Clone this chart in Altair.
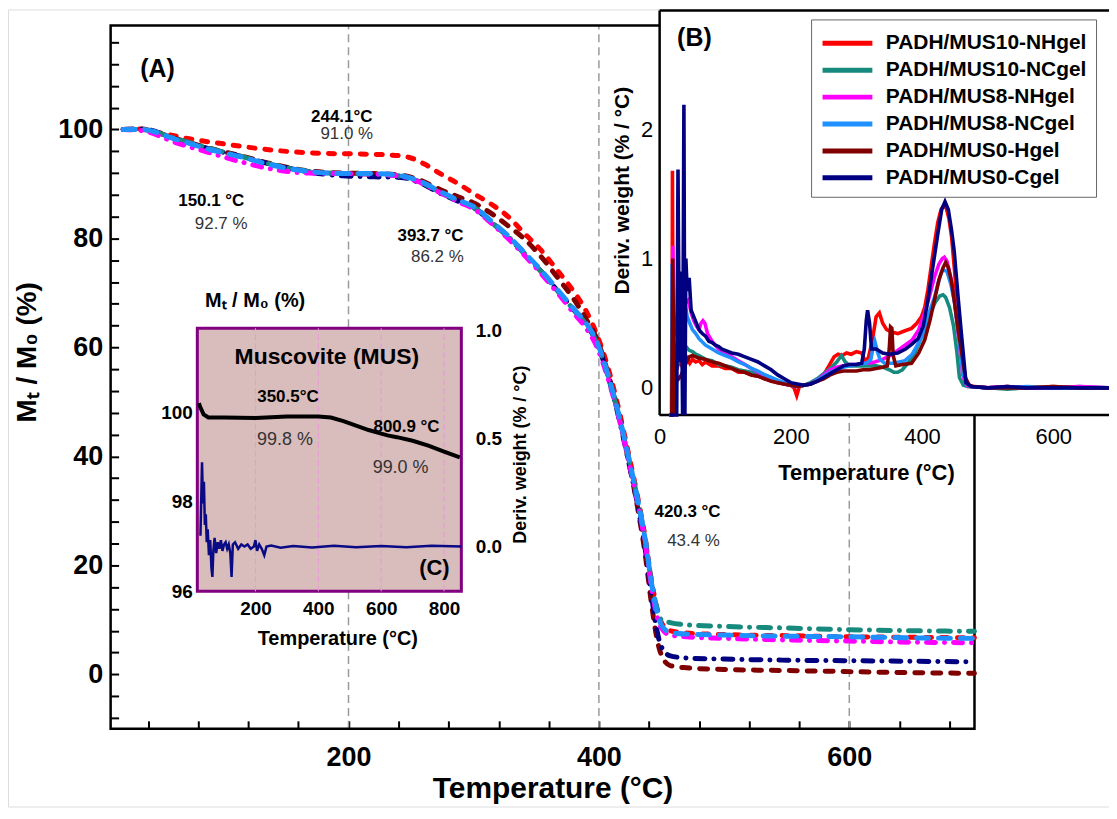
import altair as alt
import pandas as pd

W, H = 1105, 800
FONT = "Liberation Sans"

# ---------------- data ----------------
SERIES = ["PADH/MUS10-NHgel", "PADH/MUS10-NCgel", "PADH/MUS8-NHgel",
          "PADH/MUS8-NCgel", "PADH/MUS0-Hgel", "PADH/MUS0-Cgel"]
COLORS = ["#ff0000", "#178a7e", "#ff00ff", "#1e90ff", "#800000", "#000080"]

# Panel A : TGA (M_T/M_0 %) vs temperature
A_T = [20, 35, 62, 88, 115, 142, 168, 195, 221, 242, 256, 274, 288, 301, 314, 327, 341, 354, 367, 381,
       389, 399, 407, 415, 423, 431, 437, 442, 446, 450, 457, 470, 500, 550, 600, 650, 700]
A_BLUE_V = [100, 100, 98.2, 96.4, 94.9, 93.3, 92.3, 91.9, 91.9, 91.5, 90.6, 88.5, 87.0, 85.7, 83.2, 80.6, 77.3, 74.1, 70.6, 66.8,
            64.7, 60.7, 55.2, 48.5, 40.6, 32.0, 24.7, 16.8, 11.9, 9.0, 7.7, 7.4, 7.2, 7.0, 6.9, 6.7, 6.6]
A_MAG_V = [100, 99.8, 97.6, 95.8, 94.0, 92.6, 92.0, 91.9, 91.8, 91.4, 90.4, 88.3, 86.7, 85.3, 82.8, 80.1, 76.8, 73.5, 70.0, 66.0,
           63.8, 59.8, 54.5, 48.0, 40.0, 31.5, 24.0, 16.0, 11.0, 8.5, 7.2, 6.9, 6.6, 6.3, 6.1, 5.9, 5.8]
A_TEAL_V = [100, 100, 98.3, 96.6, 95.0, 93.4, 92.3, 91.9, 91.8, 91.4, 90.5, 88.4, 86.9, 85.6, 83.0, 80.4, 77.1, 73.9, 70.4, 66.6,
            64.5, 60.5, 55.0, 48.3, 40.5, 32.0, 24.8, 17.0, 12.5, 10.0, 9.5, 9.1, 8.8, 8.5, 8.2, 8.0, 7.9]
A_NAVY_V = [100, 100.1, 98.2, 96.5, 95.0, 93.4, 92.2, 91.5, 91.3, 91.2, 90.3, 88.2, 86.8, 85.5, 83.0, 80.4, 77.1, 73.9, 70.4, 66.6,
            64.5, 60.5, 55.0, 48.0, 39.8, 31.0, 23.0, 14.5, 8.5, 5.0, 3.4, 3.0, 2.8, 2.6, 2.5, 2.4, 2.3]
A_MAROON_V = [100, 100, 98.3, 96.6, 95.1, 93.5, 92.4, 92.0, 91.9, 91.6, 90.8, 88.9, 87.6, 86.4, 84.6, 82.4, 79.8, 76.6, 72.8, 68.5,
              65.5, 61.2, 55.5, 48.5, 40.0, 30.5, 22.0, 13.0, 7.0, 3.5, 1.6, 1.2, 0.9, 0.7, 0.5, 0.3, 0.2]
A_RED_T = [20, 35, 49, 75, 102, 128, 155, 182, 208, 234, 248, 261, 274, 288, 301, 314, 328, 341, 354, 367,
           381, 389, 399, 407, 415, 423, 431, 437, 442, 446, 450, 457, 470, 500, 550, 600, 650, 700]
A_RED_V = [100, 100.1, 99.4, 98.2, 97.3, 96.5, 95.9, 95.6, 95.5, 95.3, 94.9, 93.6, 91.8, 90.0, 88.1, 86.3, 83.9, 80.8, 77.8, 74.1,
           69.9, 67.0, 62.0, 56.5, 49.5, 41.2, 32.5, 25.0, 17.2, 12.4, 9.5, 8.0, 7.6, 7.3, 7.1, 6.9, 6.8, 6.7]

# Panel B : derivative weight (% / °C) vs temperature, (T, value) pairs
B_RED = [(15, -0.21), (19, -0.21), (19.5, 1.68), (20.5, 0.3), (22, 0.05), (24, 0.12), (27, 0.16), (30, 0.21), (34, 0.17),
         (38, 0.21), (42, 0.23), (46, 0.19), (50, 0.22), (55, 0.2), (60, 0.21), (65, 0.18), (70, 0.2), (80, 0.17), (90, 0.17),
         (100, 0.15), (110, 0.15), (120, 0.12), (130, 0.12), (140, 0.1), (150, 0.09), (160, 0.07), (170, 0.06), (180, 0.04),
         (190, 0.03), (200, 0.02), (205, 0.0), (209, -0.06), (213, 0.01), (220, 0.02), (230, 0.03), (240, 0.06), (250, 0.1),
         (258, 0.17), (266, 0.24), (272, 0.26), (278, 0.25), (285, 0.27), (292, 0.26), (300, 0.28), (308, 0.27), (313, 0.21),
         (318, 0.23), (324, 0.36), (330, 0.55), (335, 0.58), (340, 0.5), (346, 0.45), (355, 0.43), (363, 0.42), (373, 0.44),
         (384, 0.46), (392, 0.5), (399, 0.55), (404, 0.62), (409, 0.76), (414, 0.94), (419, 1.12), (424, 1.28), (429, 1.38),
         (433, 1.41), (437, 1.39), (441, 1.31), (445, 1.17), (450, 0.88), (455, 0.55), (460, 0.25), (465, 0.05), (470, 0.01),
         (480, 0.01), (500, 0.0), (530, 0.01), (560, 0.0), (600, 0.01), (640, 0.0), (685, 0.0)]
B_TEAL = [(15, -0.21), (18.5, -0.21), (19, 0.39), (20.5, 0.1), (22, -0.21), (24, 0.1), (27, 0.2), (30, 0.27), (33, 0.3),
          (36, 0.28), (40, 0.32), (45, 0.29), (50, 0.28), (55, 0.26), (60, 0.25), (70, 0.22), (80, 0.21), (90, 0.18),
          (100, 0.17), (110, 0.16), (120, 0.14), (130, 0.13), (140, 0.12), (150, 0.12), (160, 0.1), (170, 0.08), (180, 0.05),
          (190, 0.03), (200, 0.02), (210, 0.01), (220, 0.02), (230, 0.04), (240, 0.07), (250, 0.11), (260, 0.15), (270, 0.2),
          (277, 0.25), (283, 0.2), (290, 0.17), (300, 0.17), (310, 0.17), (320, 0.17), (330, 0.17), (340, 0.16), (350, 0.14),
          (357, 0.12), (363, 0.12), (370, 0.14), (380, 0.2), (390, 0.28), (400, 0.4), (410, 0.55), (420, 0.66), (427, 0.71),
          (432, 0.72), (436, 0.7), (442, 0.62), (448, 0.48), (453, 0.28), (457, 0.08), (463, 0.02), (470, 0.01), (500, 0.0),
          (530, -0.01), (560, 0.0), (600, 0.0), (640, 0.01), (685, 0.0)]
B_MAG = [(15, -0.21), (18.5, -0.21), (20, 1.1), (21.5, 0.6), (24, 0.4), (28, 0.5), (32, 0.58), (36, 0.62), (40, 0.66),
         (44, 0.68), (48, 0.58), (52, 0.52), (56, 0.48), (60, 0.45), (63, 0.5), (66, 0.52), (69, 0.5), (73, 0.42), (80, 0.36),
         (90, 0.3), (100, 0.27), (110, 0.24), (120, 0.21), (130, 0.18), (140, 0.15), (150, 0.12), (160, 0.09), (170, 0.07),
         (180, 0.05), (190, 0.03), (200, 0.02), (210, 0.01), (220, 0.02), (230, 0.03), (240, 0.06), (250, 0.1), (260, 0.14),
         (270, 0.16), (280, 0.17), (290, 0.18), (300, 0.18), (310, 0.19), (318, 0.19), (328, 0.2), (340, 0.22), (355, 0.26),
         (366, 0.3), (374, 0.33), (385, 0.37), (395, 0.45), (404, 0.58), (412, 0.72), (419, 0.86), (426, 0.96), (431, 1.0),
         (434, 1.01), (438, 0.98), (444, 0.85), (450, 0.65), (456, 0.38), (462, 0.1), (468, 0.02), (475, 0.01), (500, 0.0),
         (530, 0.01), (560, 0.0), (600, 0.0), (640, 0.01), (685, 0.0)]
B_BLUE = [(15, -0.21), (18, -0.21), (19, 0.96), (20.5, 0.5), (22, 0.1), (24, 0.2), (27, 0.35), (31, 0.5), (35, 0.62),
          (39, 0.64), (42, 0.55), (46, 0.5), (50, 0.45), (55, 0.42), (60, 0.38), (70, 0.33), (80, 0.3), (90, 0.27),
          (100, 0.25), (110, 0.23), (120, 0.2), (130, 0.18), (140, 0.15), (150, 0.13), (160, 0.1), (170, 0.08), (180, 0.06),
          (190, 0.04), (200, 0.02), (210, 0.01), (220, 0.02), (230, 0.03), (240, 0.06), (250, 0.09), (260, 0.12), (270, 0.14),
          (280, 0.16), (290, 0.17), (300, 0.18), (315, 0.19), (322, 0.22), (326, 0.33), (328, 0.36), (332, 0.28), (336, 0.22),
          (343, 0.19), (355, 0.19), (365, 0.2), (374, 0.21), (385, 0.26), (395, 0.35), (404, 0.45), (412, 0.6), (419, 0.7),
          (425, 0.82), (430, 0.9), (434, 0.91), (438, 0.9), (444, 0.8), (450, 0.65), (456, 0.4), (462, 0.12), (468, 0.03),
          (475, 0.01), (500, 0.0), (530, 0.0), (560, 0.01), (600, 0.0), (640, 0.0), (685, 0.0)]
B_MAROON = [(15, -0.21), (18.5, -0.21), (20, 1.0), (21.5, 0.2), (23, -0.21), (25, 0.05), (29, 0.07), (33, 0.1), (37, 0.15),
            (41, 0.2), (45, 0.24), (50, 0.25), (55, 0.24), (60, 0.23), (70, 0.22), (80, 0.2), (90, 0.19), (100, 0.17),
            (110, 0.15), (120, 0.13), (130, 0.12), (140, 0.1), (150, 0.09), (160, 0.07), (170, 0.05), (180, 0.04), (190, 0.03),
            (200, 0.02), (210, 0.01), (220, 0.02), (230, 0.03), (240, 0.05), (250, 0.07), (260, 0.1), (270, 0.12), (280, 0.13),
            (290, 0.13), (300, 0.13), (310, 0.14), (320, 0.14), (330, 0.15), (340, 0.16), (347, 0.17), (350, 0.3), (352, 0.47),
            (354, 0.46), (356, 0.25), (360, 0.17), (370, 0.18), (384, 0.19), (395, 0.27), (404, 0.37), (412, 0.52), (419, 0.68),
            (426, 0.84), (432, 0.93), (436, 0.97), (440, 0.93), (445, 0.82), (449, 0.68), (455, 0.45), (460, 0.29), (466, 0.08),
            (472, 0.02), (478, 0.01), (500, 0.0), (530, 0.0), (560, 0.0), (600, 0.01), (640, 0.0), (685, 0.0)]
B_NAVY = [(15, -0.21), (26, -0.21), (28, 1.69), (30, 0.2), (33, 0.9), (35, -0.21), (37, 2.19), (38.5, -0.21), (40, 1.0),
          (42, 0.75), (45, 0.85), (48, 0.6), (52, 0.55), (56, 0.5), (60, 0.45), (65, 0.42), (70, 0.4), (75, 0.36), (80, 0.35),
          (85, 0.33), (90, 0.32), (95, 0.3), (100, 0.29), (110, 0.27), (120, 0.26), (130, 0.24), (140, 0.22), (150, 0.2),
          (160, 0.17), (170, 0.14), (180, 0.1), (190, 0.07), (200, 0.04), (210, 0.03), (220, 0.02), (230, 0.03), (240, 0.05),
          (250, 0.08), (260, 0.11), (270, 0.14), (280, 0.17), (290, 0.18), (300, 0.18), (308, 0.19), (312, 0.3), (315, 0.52),
          (317, 0.6), (320, 0.5), (323, 0.3), (330, 0.3), (340, 0.27), (350, 0.26), (363, 0.27), (375, 0.3), (385, 0.34),
          (394, 0.38), (402, 0.48), (409, 0.68), (416, 0.92), (424, 1.19), (430, 1.38), (435, 1.44), (440, 1.38), (445, 1.22),
          (449, 1.06), (455, 0.7), (460, 0.42), (467, 0.04), (475, 0.01), (500, 0.0), (530, 0.01), (560, 0.0), (600, 0.0),
          (640, 0.0), (685, 0.0)]
B_DATA = [B_RED, B_TEAL, B_MAG, B_BLUE, B_MAROON, B_NAVY]

# Panel C : muscovite TGA (left axis) and DTG (right axis)
C_TGA_T = [20, 25, 35, 50, 100, 200, 300, 400, 440, 480, 520, 560, 600, 620, 650, 700, 750, 800, 850]
C_TGA_V = [100.2, 100.1, 99.95, 99.88, 99.88, 99.87, 99.9, 99.9, 99.88, 99.8, 99.7, 99.6, 99.52, 99.48, 99.44, 99.36,
           99.25, 99.12, 98.99]
C_DTG = [(25, 0.05), (30, 0.39), (33, 0.2), (36, 0.3), (39, 0.1), (42, 0.15), (45, 0.02), (48, 0.08), (52, -0.04),
         (56, 0.03), (60, -0.1), (63, -0.14), (66, -0.02), (70, 0.04), (75, -0.03), (80, 0.02), (85, -0.01), (90, 0.03),
         (95, -0.02), (100, 0.01), (105, 0.02), (110, -0.01), (115, 0.01), (120, -0.03), (124, -0.14), (128, 0.01),
         (135, 0.02), (145, -0.01), (155, 0.01), (165, 0.0), (175, 0.01), (185, -0.01), (195, 0.0), (200, 0.03),
         (205, -0.02), (212, 0.01), (220, -0.01), (228, -0.04), (235, 0.0), (250, 0.005), (280, -0.005), (320, 0.003),
         (380, -0.004), (450, 0.004), (520, -0.003), (600, 0.003), (680, -0.003), (760, 0.004), (855, 0.0)]

# annotations
A_TEMP_LABELS = ["244.1°C", "150.1 °C", "393.7 °C", "420.3 °C"]
A_TEMP_T = [194.6, 90.4, 265.5, 470.8]
A_TEMP_V = [102.3, 86.9, 80.5, 29.7]
A_PCT_LABELS = ["91.0 %", "92.7 %", "86.2 %", "43.4 %"]
A_PCT_T = [198.6, 98.3, 271.0, 475.6]
A_PCT_V = [99.2, 82.7, 76.5, 24.4]
C_TEMP_LABELS = ["350.5°C", "800.9 °C"]
C_TEMP_T = [303.4, 680.6]
C_TEMP_V = [100.34, 99.67]
C_PCT_LABELS = ["99.8 %", "99.0 %"]
C_PCT_T = [294.0, 661.6]
C_PCT_V = [99.38, 98.76]

# ---------------- panel geometry (pixel ranges) ----------------
A_XS = dict(domain=[10, 700], range=[103, 970])
A_YS = dict(domain=[-10, 119.1], range=[722, 16])
B_XS = dict(domain=[0, 685], range=[654, 1105])
B_YS = dict(domain=[-0.21, 2.92], range=[407, 1])
C_XS = dict(domain=[15, 855], range=[190, 455])
C_YL = dict(domain=[96, 101.87], range=[584, 320])
C_YR = dict(domain=[-0.207, 1.01], range=[584, 320])


def S(d):
    return alt.Scale(domain=d["domain"], range=d["range"], nice=False, zero=False)


def enc(xs, ys, xaxis=None, yaxis=None):
    return dict(x=alt.X("T:Q", scale=S(xs), axis=xaxis), y=alt.Y("V:Q", scale=S(ys), axis=yaxis))


def line(T, V, xs, ys, **mk):
    df = pd.DataFrame({"T": T, "V": V})
    return alt.Chart(df).mark_line(**mk).encode(**enc(xs, ys))


def text(labels, T, V, xs, ys, **mk):
    df = pd.DataFrame({"T": T, "V": V, "label": labels})
    return alt.Chart(df).mark_text(font=FONT, **mk).encode(text="label:N", **enc(xs, ys))


def carrier(xs, ys, xaxis, yaxis):
    df = pd.DataFrame({"T": xs["domain"], "V": ys["domain"]})
    return alt.Chart(df).mark_point(opacity=0).encode(**enc(xs, ys, xaxis, yaxis))


def lab_axis(orient, offset, values, size, weight, pad, fmt=None):
    kw = dict(orient=orient, offset=offset, values=values, ticks=False, domain=False, grid=False,
              labelFontSize=size, labelFontWeight=weight, labelColor="black", labelFont=FONT,
              labelPadding=pad, labelFlush=False, labelOverlap=False, title=None)
    if fmt:
        kw["format"] = fmt
    return alt.Axis(**kw)


def tick_axis(orient, offset, values, size=8):
    return alt.Axis(orient=orient, offset=offset, values=values, labels=False, domain=False, grid=False,
                    tickSize=size, tickWidth=2, tickColor="black", title=None)


def rect(xs, ys, **mk):
    df = pd.DataFrame({"T": [xs["domain"][0]], "T2": [xs["domain"][1]],
                       "V": [ys["domain"][0]], "V2": [ys["domain"][1]]})
    return alt.Chart(df).mark_rect(**mk).encode(
        x=alt.X("T:Q", scale=S(xs), axis=None), x2="T2:Q",
        y=alt.Y("V:Q", scale=S(ys), axis=None), y2="V2:Q")


def rules(T, T2, V, V2, xs, ys, **mk):
    df = pd.DataFrame({"T": T, "T2": T2, "V": V, "V2": V2})
    return alt.Chart(df).mark_rule(**mk).encode(
        x=alt.X("T:Q", scale=S(xs), axis=None), x2="T2:Q",
        y=alt.Y("V:Q", scale=S(ys), axis=None), y2="V2:Q")


layers = []

# ---------------- Panel A ----------------
layers.append(rules([200, 400, 600], [200, 400, 600], [-10] * 3, [119.1] * 3, A_XS, A_YS,
                    color="#9a9a9a", strokeWidth=1.5, strokeDash=[8, 5]))
layers.append(rect(A_XS, A_YS, fillOpacity=0, stroke="black", strokeWidth=2.5))
A_STYLE = dict(strokeWidth=5, strokeCap="round", interpolate="monotone")
layers.append(line(A_RED_T, A_RED_V, A_XS, A_YS, color=COLORS[0], strokeDash=[6, 10], **A_STYLE))
layers.append(line(A_T, A_MAROON_V, A_XS, A_YS, color=COLORS[4], strokeDash=[8, 10], **A_STYLE))
layers.append(line(A_T, A_NAVY_V, A_XS, A_YS, color=COLORS[5], strokeDash=[10, 9, 0.1, 9], **A_STYLE))
layers.append(line(A_T, A_TEAL_V, A_XS, A_YS, color=COLORS[1], strokeDash=[12, 9, 0.1, 9], **A_STYLE))
layers.append(line(A_T, A_MAG_V, A_XS, A_YS, color=COLORS[2], strokeDash=[9, 9, 0.1, 9], **A_STYLE))
layers.append(line(A_T, A_BLUE_V, A_XS, A_YS, color=COLORS[3], strokeDash=[12, 10], **A_STYLE))
layers.append(text(A_TEMP_LABELS, A_TEMP_T, A_TEMP_V, A_XS, A_YS, fontSize=17, fontWeight="bold", color="black"))
layers.append(text(A_PCT_LABELS, A_PCT_T, A_PCT_V, A_XS, A_YS, fontSize=17, color="#333333"))
layers.append(text(["(A)"], [47.4], [111.0], A_XS, A_YS, fontSize=25, fontWeight="bold", color="black"))
layers.append(text(["Mₜ / M₀ (%)"], [125.4], [68.6], A_XS, A_YS, fontSize=20, fontWeight="bold", color="black"))
layers.append(text(["Mₜ / M₀ (%)"], [-56.1], [59.1], A_XS, A_YS, fontSize=28, fontWeight="bold", color="black", angle=270))
layers.append(text(["Temperature (°C)"], [363.4], [-21.0], A_XS, A_YS, fontSize=30, fontWeight="bold", color="black"))
layers.append(carrier(A_XS, A_YS,
                      lab_axis("bottom", 722 - H, [200, 400, 600], 27, "bold", 16),
                      lab_axis("left", -103, [0, 20, 40, 60, 80, 100], 27, "bold", 8)))
layers.append(carrier(A_XS, A_YS,
                      tick_axis("top", -722, list(range(40, 700, 40))),
                      tick_axis("right", 103 - W, list(range(-8, 119, 4)))))

# ---------------- Panel C (inset) ----------------
layers.append(rect(C_XS, C_YL, fill="#d9bcbc", stroke="#800080", strokeWidth=3))
layers.append(rules([200, 400, 600, 800], [200, 400, 600, 800], [96] * 4, [101.87] * 4, C_XS, C_YL,
                    color="#e89ad8", strokeWidth=1, strokeDash=[6, 3]))
layers.append(line(C_TGA_T, C_TGA_V, C_XS, C_YL, color="black", strokeWidth=4))
layers.append(line([p[0] for p in C_DTG], [p[1] for p in C_DTG], C_XS, C_YR, color="#0a0a85", strokeWidth=2.5))
layers.append(text(["Muscovite (MUS)"], [427], [101.23], C_XS, C_YL, fontSize=23, fontWeight="bold", color="black"))
layers.append(text(C_TEMP_LABELS, C_TEMP_T, C_TEMP_V, C_XS, C_YL, fontSize=17, fontWeight="bold", color="black"))
layers.append(text(C_PCT_LABELS, C_PCT_T, C_PCT_V, C_XS, C_YL, fontSize=18, color="#333333"))
layers.append(text(["(C)"], [769.4], [96.53], C_XS, C_YL, fontSize=22, fontWeight="bold", color="black"))
layers.append(text(["Temperature (°C)"], [461.9], [94.93], C_XS, C_YL, fontSize=20, fontWeight="bold", color="black"))
layers.append(text(["Deriv. weight (% / °C)"], [1045], [99.05], C_XS, C_YL, fontSize=18, fontWeight="bold",
                   color="black", angle=270))
layers.append(carrier(C_XS, C_YL,
                      lab_axis("bottom", 584 - H, [200, 400, 600, 800], 19, "bold", 8),
                      lab_axis("left", -190, [96, 98, 100], 19, "bold", 5)))
layers.append(carrier(C_XS, C_YR, None, lab_axis("right", 455 - W, [0.0, 0.5, 1.0], 19, "bold", 14, ".1f")))

# ---------------- Panel B (inset) ----------------
layers.append(rect(B_XS, B_YS, fill="white", strokeWidth=0))
layers.append(rules([0, 0, 0], [685, 0, 685], [2.92, -0.21, -0.21], [2.92, 2.92, -0.21], B_XS, B_YS,
                    color="black", strokeWidth=2.5))
b_rows = []
for name, pts in zip(SERIES, B_DATA):
    for t, v in pts:
        b_rows.append({"T": t, "V": v, "series": name})
b_df = pd.DataFrame(b_rows)
layers.append(alt.Chart(b_df).mark_line(strokeWidth=3.6).encode(
    color=alt.Color("series:N", scale=alt.Scale(domain=SERIES, range=COLORS), sort=SERIES,
                    legend=alt.Legend(orient="none", legendX=806, legendY=10, title=None,
                                      symbolType="M-1,0L3,0", symbolStrokeWidth=5, symbolSize=625,
                                      labelFontSize=21, labelFontWeight="bold", labelFont=FONT,
                                      labelColor="black", labelLimit=400, strokeColor="#666666",
                                      fillColor="white", padding=9, rowPadding=2, labelOffset=36)),
    **enc(B_XS, B_YS)))
layers.append(text(["(B)"], [53], [2.704], B_XS, B_YS, fontSize=25, fontWeight="bold", color="black"))
layers.append(text(["Temperature (°C)"], [315.4], [-0.657], B_XS, B_YS, fontSize=22, fontWeight="bold", color="black"))
layers.append(text(["Deriv. weight (% / °C)"], [-56.1], [1.525], B_XS, B_YS, fontSize=21, fontWeight="bold",
                   color="black", angle=270))
layers.append(carrier(B_XS, B_YS,
                      lab_axis("bottom", 407 - H, [0, 200, 400, 600], 22, "normal", 12),
                      lab_axis("left", -654, [0, 1, 2], 22, "normal", 7)))
layers.append(carrier(B_XS, B_YS,
                      tick_axis("top", -407, list(range(0, 685, 40)), 7),
                      tick_axis("right", 654 - W, [round(-0.2 + 0.2 * i, 1) for i in range(16)], 7)))

chart = alt.layer(*layers).resolve_scale(x="independent", y="independent").properties(
    width=W, height=H, autosize=alt.AutoSizeParams(type="none"), padding=0
).configure_view(stroke=None).configure(font=FONT)

chart.save("out.html", embed_options={"renderer": "svg", "actions": False})
